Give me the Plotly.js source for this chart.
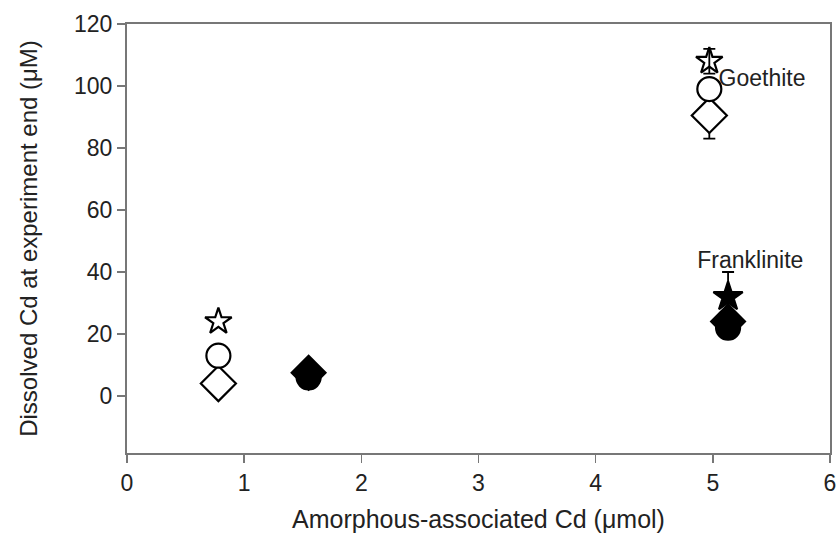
<!DOCTYPE html>
<html>
<head>
<meta charset="utf-8">
<script src="https://cdn.plot.ly/plotly-3.0.1.min.js"></script>
<style>html,body{margin:0;padding:0;background:#fff;}#chart{width:840px;height:543px;}</style>
</head>
<body>
<div id="chart"></div>
<script>
// Open symbols (x≈0.78 and Goethite), filled symbols (x≈1.55 and Franklinite)
const xOpen = [0.78, 4.97];
const xFilled = [1.55, 5.13];

const openStar = [24, 108];
const openStarErr = [null, 4];
const openCircle = [13, 99];
const openDiamond = [4, 90.5];
const openDiamondErr = [null, 7.5];

const filledStar = [null, 32];
const filledStarErr = [null, 8];
const filledCircle = [6, 22];
const filledDiamond = [7.5, 24];

const labels = ["Goethite", "Franklinite"];
const labelX = [5.42, 5.32];
const labelY = [102, 43];

const yTicks = [0, 20, 40, 60, 80, 100, 120];
const xTicks = [0, 1, 2, 3, 4, 5, 6];

const FONT = 'Liberation Sans, Arial, sans-serif';

function markers(x, y, symbol, size, fill) {
  return {
    x: x, y: y, type: 'scatter', mode: 'markers',
    marker: {symbol: symbol, size: size, color: fill, line: {color: '#000', width: 2.2}},
    showlegend: false, hoverinfo: 'x+y'
  };
}
// error bars only where an error value exists
function errors(x, y, err) {
  const xs = [], ys = [], es = [];
  err.forEach((e, i) => { if (e != null && y[i] != null) { xs.push(x[i]); ys.push(y[i]); es.push(e); } });
  return {
    x: xs, y: ys, type: 'scatter', mode: 'markers',
    marker: {size: 1, opacity: 0},
    error_y: {type: 'data', array: es, visible: true, color: '#000', thickness: 1.8, width: 6},
    showlegend: false, hoverinfo: 'skip'
  };
}

const data = [
  errors(xOpen, openDiamond, openDiamondErr),
  errors(xOpen, openStar, openStarErr),
  errors(xFilled, filledStar, filledStarErr),
  markers(xOpen, openDiamond, 'diamond', 27, '#fff'),
  markers(xOpen, openCircle, 'circle', 24, '#fff'),
  markers(xOpen, openStar, 'star-open', 20, '#000'),
  markers(xFilled, filledStar, 'star', 22, '#000'),
  markers(xFilled, filledCircle, 'circle', 24, '#000'),
  markers(xFilled, filledDiamond, 'diamond', 26, '#000'),
  {
    x: labelX, y: labelY, type: 'scatter', mode: 'text', text: labels,
    textfont: {family: FONT, size: 23, color: '#222'},
    textposition: 'middle center', showlegend: false, hoverinfo: 'skip'
  }
];

const axisCommon = {
  showgrid: false, zeroline: false, showline: true, linecolor: '#777', linewidth: 2,
  mirror: true, ticks: 'outside', ticklen: 8, tickwidth: 1.5, tickcolor: '#777',
  tickfont: {family: FONT, size: 23, color: '#222'}
};

const layout = {
  width: 840, height: 543,
  margin: {l: 127, r: 10, t: 24, b: 90},
  paper_bgcolor: '#fff', plot_bgcolor: '#fff',
  font: {family: FONT, color: '#222'},
  xaxis: Object.assign({}, axisCommon, {
    range: [0, 6], tickvals: xTicks, ticktext: xTicks.map(String),
    title: {text: 'Amorphous-associated Cd (\u03bcmol)', font: {family: FONT, size: 25, color: '#222'}, standoff: 16}
  }),
  yaxis: Object.assign({}, axisCommon, {
    range: [-18.4, 120], tickvals: yTicks, ticktext: yTicks.map(String),
    title: {text: 'Dissolved Cd at experiment end (\u03bcM)', font: {family: FONT, size: 24, color: '#222'}, standoff: 30}
  })
};

Plotly.newPlot('chart', data, layout, {displayModeBar: false, staticPlot: true});
</script>
</body>
</html>
